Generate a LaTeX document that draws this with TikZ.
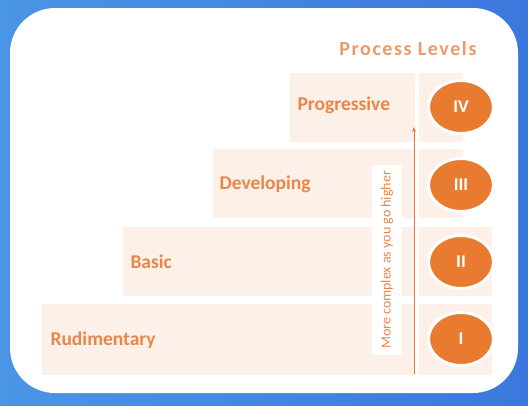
\documentclass[tikz,border=0pt]{standalone}
\usepackage{fontspec}
\setmainfont{Carlito}
\usetikzlibrary{positioning,arrows.meta,shapes.geometric}

\definecolor{bgblueL}{HTML}{4A95E5}
\definecolor{bgblueR}{HTML}{3B78DD}
\definecolor{peach}{HTML}{FCF0E8}
\definecolor{lvorange}{HTML}{E97B30}
\definecolor{txtorange}{HTML}{E8874A}
\definecolor{titleorange}{HTML}{EE9A68}

\tikzset{
    rowbox/.style={fill=peach},
    lvlabel/.style={anchor=west, text=txtorange, font=\bfseries\fontsize{19.5}{19.5}\selectfont},
    lvcircle/.style={ellipse, fill=lvorange, draw=white, line width=3pt,
        minimum width=65pt, minimum height=53pt, inner sep=0pt,
        text=white, font=\bfseries\fontsize{18}{18}\selectfont},
}

\begin{document}
\begin{tikzpicture}[x=1pt,y=-1pt]
    % 背景
    \shade[left color=bgblueL, right color=bgblueR] (0,0) rectangle (528,405);
    \useasboundingbox (0,0) rectangle (528,405);
    \fill[white, rounded corners=45pt] (10,8) rectangle (518,393);
    
    % 标题
    \node[anchor=base, text=titleorange, font=\bfseries\fontsize{20}{20}\selectfont\addfontfeature{LetterSpace=8}] (title) at (408,55) {Process Levels};
    
    % 台阶
    \fill[rowbox] (42,304) rectangle (492,375);
    \fill[rowbox] (123,227) rectangle (492,296);
    \fill[rowbox] (213,149) rectangle (463,218);
    \fill[rowbox] (290,73) rectangle (463,142);
    
    % 级别名称
    \node[lvlabel] (rud) at (47,340) {Rudimentary};
    \node[lvlabel] (bas) at (127,262) {Basic};
    \node[lvlabel] (dev) at (216,184) {Developing};
    \node[lvlabel] (pro) at (294,105) {Progressive};
    
    % 级别编号
    \node[lvcircle] (lvI) at (461,339) {I};
    \node[lvcircle] (lvII) at (461,262) {II};
    \node[lvcircle] (lvIII) at (461,185) {III};
    \node[lvcircle] (lvIV) at (461,107) {IV};
    
    % 箭头和说明
    \fill[white] (415,73) rectangle (419,375);
    \coordinate (arrowBot) at (414,374);
    \coordinate (arrowTop) at (414,127);
    \draw[-{Stealth[length=5pt,width=4pt]}, lvorange, line width=1pt] (arrowBot) -- (arrowTop);
    \node[fill=white, rotate=90, text=txtorange, font=\fontsize{14}{14}\selectfont,
        minimum width=190pt, minimum height=30pt] (note) at (387,260) {More complex as you go higher};
    
\end{tikzpicture}
\end{document}
